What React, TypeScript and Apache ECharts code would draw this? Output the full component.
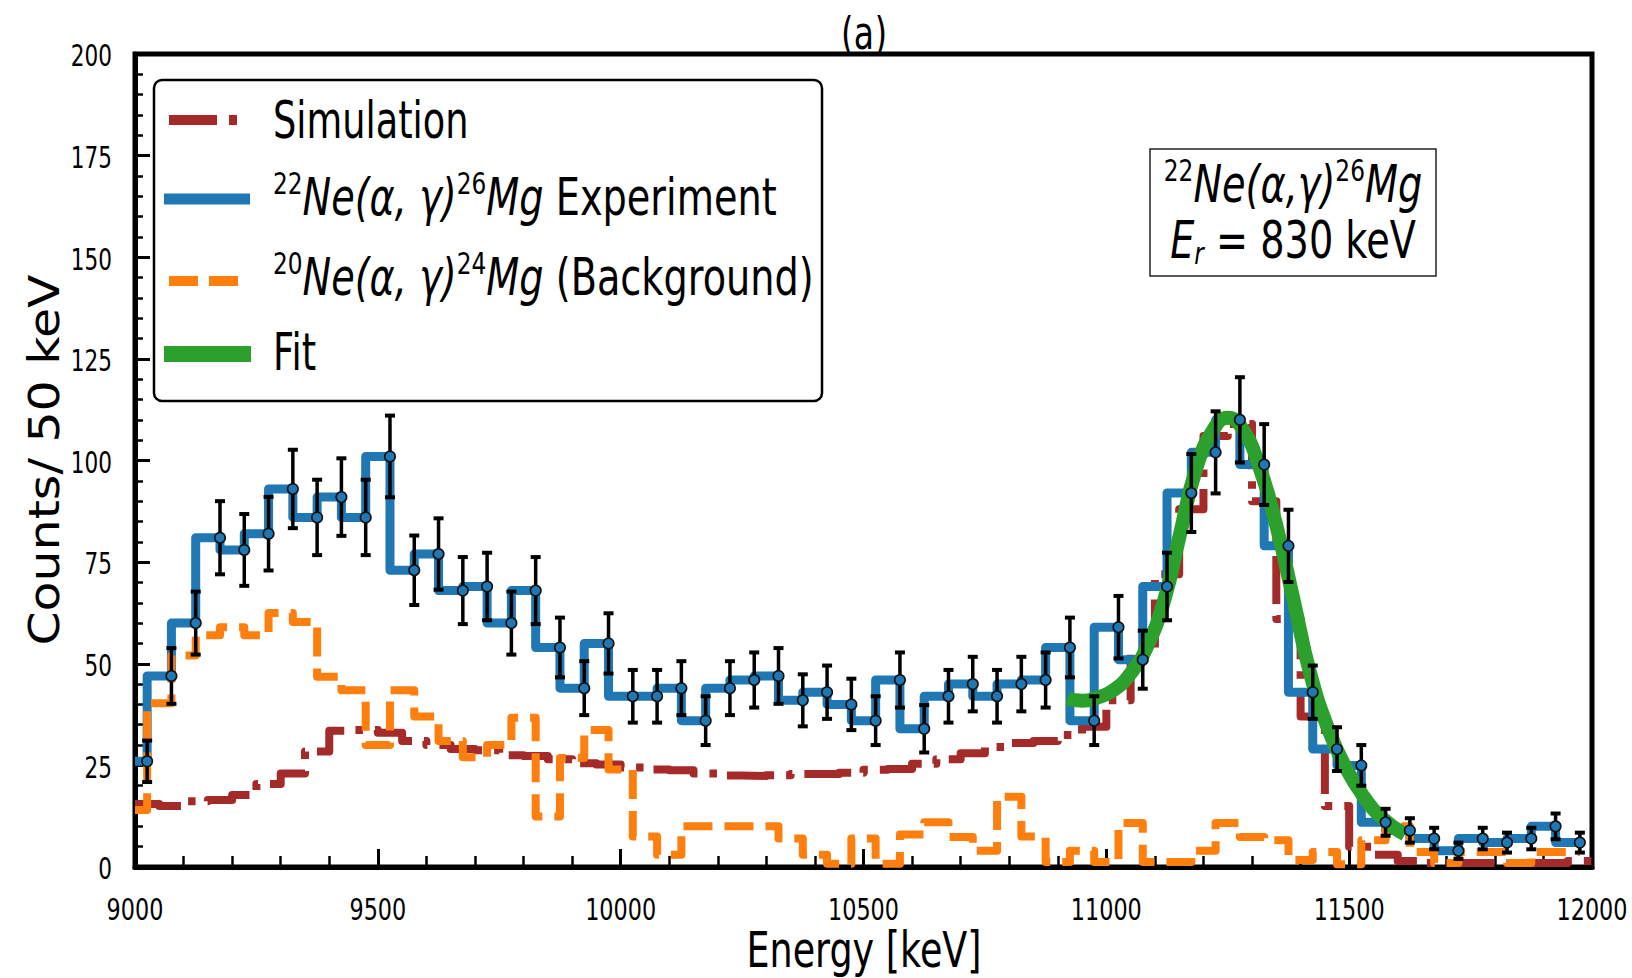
import React, { useEffect, useRef } from "react";
import * as echarts from "echarts";

// Energy axis range (keV)
const E_MIN = 9000;
const E_MAX = 12000;

// Experimental histogram: bin centres (keV) and counts per 50 keV
const binCenters = [
  9025, 9075, 9125, 9175, 9225, 9275, 9325, 9375, 9425, 9475,
  9525, 9575, 9625, 9675, 9725, 9775, 9825, 9875, 9925, 9975,
  10025, 10075, 10125, 10175, 10225, 10275, 10325, 10375, 10425, 10475,
  10525, 10575, 10625, 10675, 10725, 10775, 10825, 10875, 10925, 10975,
  11025, 11075, 11125, 11175, 11225, 11275, 11325, 11375, 11425, 11475,
  11525, 11575, 11625, 11675, 11725, 11775, 11825, 11875, 11925, 11975,
];
const experimentCounts = [
  26, 47, 60, 81, 78, 82, 93, 86, 91, 86,
  101, 73, 77, 68, 69, 60, 68, 54, 44, 55,
  42, 42, 44, 36, 44, 46, 47, 41, 43, 40,
  36, 46, 34, 42, 45, 42, 45, 46, 54, 36,
  59, 51, 69, 92, 102, 110, 99, 79, 43, 29,
  25, 11, 9, 7, 4, 7, 6, 7, 10, 6,
];

// 20Ne(a,g)24Mg background, same binning as the experiment
const backgroundCounts = [
  14, 40.3, 52, 57, 59, 57, 62.5, 60.3, 46.8, 43.5,
  30, 43.5, 37, 31, 27, 30, 36.7, 12.4, 26.8, 33.7,
  24, 7.5, 3, 10, 10, 10, 10, 7, 3, 0.8,
  7, 0.8, 8, 11, 7.4, 4, 17.3, 7.5, 1.2, 4,
  1.2, 10.8, 1.2, 1.2, 4, 10.8, 7.4, 6.6, 1.7, 3.7,
  0.7, 6.6, 10, 3.7, 1, 3.7, 3.7, 1, 3.7, 3.7,
];

// Simulated spectrum: upper bin edges (keV) and counts
const simEdges = [
  9050, 9100, 9150, 9200, 9250, 9300, 9350, 9400, 9450, 9500,
  9550, 9600, 9650, 9700, 9750, 9800, 9850, 9900, 9950, 10000,
  10050, 10100, 10150, 10200, 10250, 10300, 10350, 10400, 10450, 10500,
  10550, 10600, 10650, 10700, 10750, 10800, 10850, 10900, 10950, 11000,
  11050, 11100, 11150, 11200, 11250, 11300, 11350, 11400, 11450, 11500,
  11550, 11600, 11650, 11700, 11750, 11800, 11850, 11900, 11950, 12000,
];
const simCounts = [
  15.5, 15, 16.2, 16.5, 17.7, 20.4, 23, 28.4, 33.5, 33.7,
  33, 31, 30, 29, 28.7, 27.5, 27.3, 26.5, 25.5, 25.2,
  24.5, 24, 23.8, 23, 22.5, 22.4, 22.6, 22.9, 22.9, 23.2,
  23.9, 24.1, 25.4, 26.5, 28, 29.5, 30.5, 31, 32.5, 34.5,
  41, 53, 72, 88, 106, 109, 90, 61, 37, 15,
  5, 3, 1.5, 1, 1, 1, 1, 1, 1, 1.5,
];

// Peak fit curve
const fitEnergy = [
  10920, 10950, 10980, 11015, 11050, 11085, 11120, 11150, 11185, 11220, 11250,
  11280, 11315, 11350, 11385, 11420, 11460, 11495, 11530, 11565, 11615,
];
const fitCounts = [
  41.5, 40.9, 41.6, 43.5, 47.6, 54.5, 66, 81, 98, 107.5, 110.5,
  107.8, 98.5, 84, 66, 47.5, 33, 24, 17.3, 12.3, 8,
];

// Axis ticks and their labels
const xTicks = { min: E_MIN, max: E_MAX, interval: 500 };
const yTicks = { min: 0, max: 200, interval: 25 };
const xTickLabels = [9000, 9500, 10000, 10500, 11000, 11500, 12000];
const yTickLabels = [0, 25, 50, 75, 100, 125, 150, 175, 200];

const FONT = "'DejaVu Sans', sans-serif";
const SQUEEZE = 0.72; // condensed look of the figure's lettering
const SQUEEZE_MATH = 0.75; // reaction formulas set slightly wider

const C_SIM = "#a52a2a";
const C_EXP = "#1f77b4";
const C_BKG = "#ff7f0e";
const C_FIT = "#2ca02c";

// Histogram steps: each value is held over the 50 keV interval ending at its x
const stepData = (xs: number[], ys: number[]) => [
  [E_MIN, ys[0]],
  ...xs.map((x, i) => [x, ys[i]]),
];

const errorData = binCenters.map((x, i) => {
  const n = experimentCounts[i];
  const s = Math.sqrt(n); // Poisson uncertainty
  return [x, n - s, n + s];
});

const richStyles = {
  rm: { fontSize: 51, fontFamily: FONT, lineHeight: 58, verticalAlign: "middle", fill: "#000" },
  it: { fontSize: 51, fontFamily: FONT, fontStyle: "italic", lineHeight: 58, verticalAlign: "middle", fill: "#000" },
  sup: { fontSize: 31, fontFamily: FONT, lineHeight: 31, verticalAlign: "top", fill: "#000" },
  sub: { fontSize: 31, fontFamily: FONT, fontStyle: "italic", lineHeight: 31, verticalAlign: "bottom", fill: "#000" },
};

const richText = (x: number, y: number, text: string, align: string, squeeze: number) => ({
  type: "text",
  x,
  y,
  z: 101,
  scaleX: squeeze,
  style: { text, rich: richStyles, align, verticalAlign: "middle", fontSize: 51, fontFamily: FONT, fill: "#000" },
});

const legendLine = (y: number, color: string, width: number, dash: number[] | null, x1: number, x2: number) => ({
  type: "line",
  z: 101,
  shape: { x1, y1: y, x2, y2: y },
  style: { stroke: color, lineWidth: width, lineDash: dash || undefined, lineCap: "butt" },
});

export default function App() {
  const ref = useRef<HTMLDivElement>(null);

  useEffect(() => {
    const chart = echarts.init(ref.current!, null, { renderer: "svg" });

    const option = {
      animation: false,
      backgroundColor: "#fff",
      grid: {
        left: 135,
        right: 40,
        top: 54,
        bottom: 111,
        show: true,
        borderColor: "#000",
        borderWidth: 5,
        containLabel: false,
        outerBoundsMode: "none",
      },
      xAxis: {
        type: "value",
        min: xTicks.min,
        max: xTicks.max,
        interval: xTicks.interval,
        axisLine: { show: true, lineStyle: { color: "#000", width: 5 } },
        axisTick: { show: true, inside: true, length: 18, lineStyle: { color: "#000", width: 3 } },
        minorTick: { show: true, splitNumber: 5, length: 11, lineStyle: { color: "#000", width: 2.5 } },
        splitLine: { show: false },
        minorSplitLine: { show: false },
        axisLabel: { show: false },
      },
      yAxis: {
        type: "value",
        min: yTicks.min,
        max: yTicks.max,
        interval: yTicks.interval,
        axisLine: { show: true, lineStyle: { color: "#000", width: 5 } },
        axisTick: { show: true, inside: true, length: 15, lineStyle: { color: "#000", width: 3 } },
        minorTick: { show: true, splitNumber: 5, length: 8, lineStyle: { color: "#000", width: 2.5 } },
        splitLine: { show: false },
        minorSplitLine: { show: false },
        axisLabel: { show: false },
      },
      series: [
        {
          name: "Simulation",
          type: "line",
          step: "start",
          data: stepData(simEdges, simCounts),
          showSymbol: false,
          clip: true,
          z: 2,
          lineStyle: { color: C_SIM, width: 8, type: [48, 12, 7.5, 12], cap: "butt", join: "round" },
        },
        {
          name: "Experiment",
          type: "line",
          step: "start",
          data: stepData(binCenters, experimentCounts),
          showSymbol: false,
          clip: true,
          z: 3,
          lineStyle: { color: C_EXP, width: 9, join: "round" },
        },
        {
          name: "Background",
          type: "line",
          step: "start",
          data: stepData(binCenters, backgroundCounts),
          showSymbol: false,
          clip: true,
          z: 4,
          lineStyle: { color: C_BKG, width: 8, type: [29, 12], cap: "butt", join: "round" },
        },
        {
          name: "Fit",
          type: "line",
          smooth: true,
          data: fitEnergy.map((x, i) => [x, fitCounts[i]]),
          showSymbol: false,
          z: 5,
          lineStyle: { color: C_FIT, width: 14, cap: "butt" },
        },
        {
          name: "Errors",
          type: "custom",
          z: 6,
          data: errorData,
          encode: { x: 0, y: [1, 2] },
          renderItem: (params: any, api: any) => {
            const lo = api.coord([api.value(0), api.value(1)]);
            const hi = api.coord([api.value(0), api.value(2)]);
            const half = 5;
            const style = { stroke: "#000", lineWidth: 3.5 };
            return {
              type: "group",
              children: [
                { type: "line", shape: { x1: lo[0], y1: lo[1], x2: hi[0], y2: hi[1] }, style },
                { type: "line", shape: { x1: lo[0] - half, y1: lo[1], x2: lo[0] + half, y2: lo[1] }, style: { stroke: "#000", lineWidth: 4 } },
                { type: "line", shape: { x1: hi[0] - half, y1: hi[1], x2: hi[0] + half, y2: hi[1] }, style: { stroke: "#000", lineWidth: 4 } },
              ],
            };
          },
        },
        {
          name: "Points",
          type: "scatter",
          z: 7,
          symbol: "circle",
          symbolSize: 10.5,
          data: binCenters.map((x, i) => [x, experimentCounts[i]]),
          itemStyle: { color: C_EXP, borderColor: "#111", borderWidth: 1.6, opacity: 1 },
        },
        {
          // energy tick labels, placed below the axis at each tick value
          name: "xTickLabels",
          type: "custom",
          silent: true,
          clip: false,
          z: 8,
          data: xTickLabels.map((v) => [v, yTicks.min]),
          encode: { x: 0, y: 1 },
          renderItem: (params: any, api: any) => {
            const p = api.coord([api.value(0), api.value(1)]);
            return {
              type: "text",
              x: p[0],
              y: p[1] + 42,
              scaleX: SQUEEZE,
              style: { text: String(api.value(0)), fontSize: 31, fontFamily: FONT, fill: "#000", align: "center", verticalAlign: "middle" },
            };
          },
        },
        {
          // count tick labels, placed left of the axis at each tick value
          name: "yTickLabels",
          type: "custom",
          silent: true,
          clip: false,
          z: 8,
          data: yTickLabels.map((v) => [E_MIN, v]),
          encode: { x: 0, y: 1 },
          renderItem: (params: any, api: any) => {
            const p = api.coord([api.value(0), api.value(1)]);
            return {
              type: "text",
              x: p[0] - 23,
              y: p[1] + 2,
              scaleX: SQUEEZE,
              style: { text: String(api.value(1)), fontSize: 30, fontFamily: FONT, fill: "#000", align: "right", verticalAlign: "middle" },
            };
          },
        },
      ],
      graphic: [
        // axis titles
        {
          type: "text", x: 864, y: 950, z: 100, scaleX: 0.745,
          style: { text: "Energy [keV]", fontSize: 49, fontFamily: FONT, fill: "#000", align: "center", verticalAlign: "middle" },
        },
        {
          type: "text", x: 44, y: 460, z: 100, rotation: Math.PI / 2, scaleY: 0.87,
          style: { text: "Counts/ 50 keV", fontSize: 49, fontFamily: FONT, fill: "#000", align: "center", verticalAlign: "middle" },
        },
        // panel label
        {
          type: "text", x: 864, y: 33, z: 100, scaleX: SQUEEZE,
          style: { text: "(a)", fontSize: 46, fontFamily: FONT, fill: "#000", align: "center", verticalAlign: "middle" },
        },
        { type: "rect", z: 102, shape: { x: 800, y: 0, width: 130, height: 15 }, style: { fill: "#fff" } },
        // legend frame, handles and labels
        { type: "rect", z: 100, shape: { x: 154, y: 80, width: 668, height: 321, r: 8 }, style: { fill: "#fff", stroke: "#000", lineWidth: 2.5 } },
        legendLine(120, C_SIM, 10, [48, 12, 8, 12], 169, 245),
        legendLine(199, C_EXP, 11, null, 164, 250),
        legendLine(281, C_BKG, 10, [29, 11], 169, 245),
        legendLine(354, C_FIT, 16, null, 164, 251),
        richText(273, 120, "{rm|Simulation}", "left", SQUEEZE),
        richText(273, 197, "{sup|22}{it|Ne(α, γ)}{sup|26}{it|Mg}{rm| Experiment}", "left", SQUEEZE_MATH),
        richText(273, 277, "{sup|20}{it|Ne(α, γ)}{sup|24}{it|Mg}{rm| (Background)}", "left", SQUEEZE_MATH),
        richText(273, 352, "{rm|Fit}", "left", SQUEEZE),
        // reaction / resonance annotation
        { type: "rect", z: 100, shape: { x: 1150, y: 149, width: 286, height: 127 }, style: { fill: "#fff", stroke: "#222", lineWidth: 1.5 } },
        richText(1293, 184, "{sup|22}{it|Ne(α,γ)}{sup|26}{it|Mg}", "center", SQUEEZE_MATH),
        richText(1293, 240, "{it|E}{sub|r}{rm| = 830 keV}", "center", SQUEEZE_MATH),
      ],
    };

    chart.setOption(option as any);
    return () => chart.dispose();
  }, []);

  return (
    <div
      ref={ref}
      style={{ position: "fixed", left: 0, top: 0, width: 1632, height: 978, background: "#fff" }}
    />
  );
}
